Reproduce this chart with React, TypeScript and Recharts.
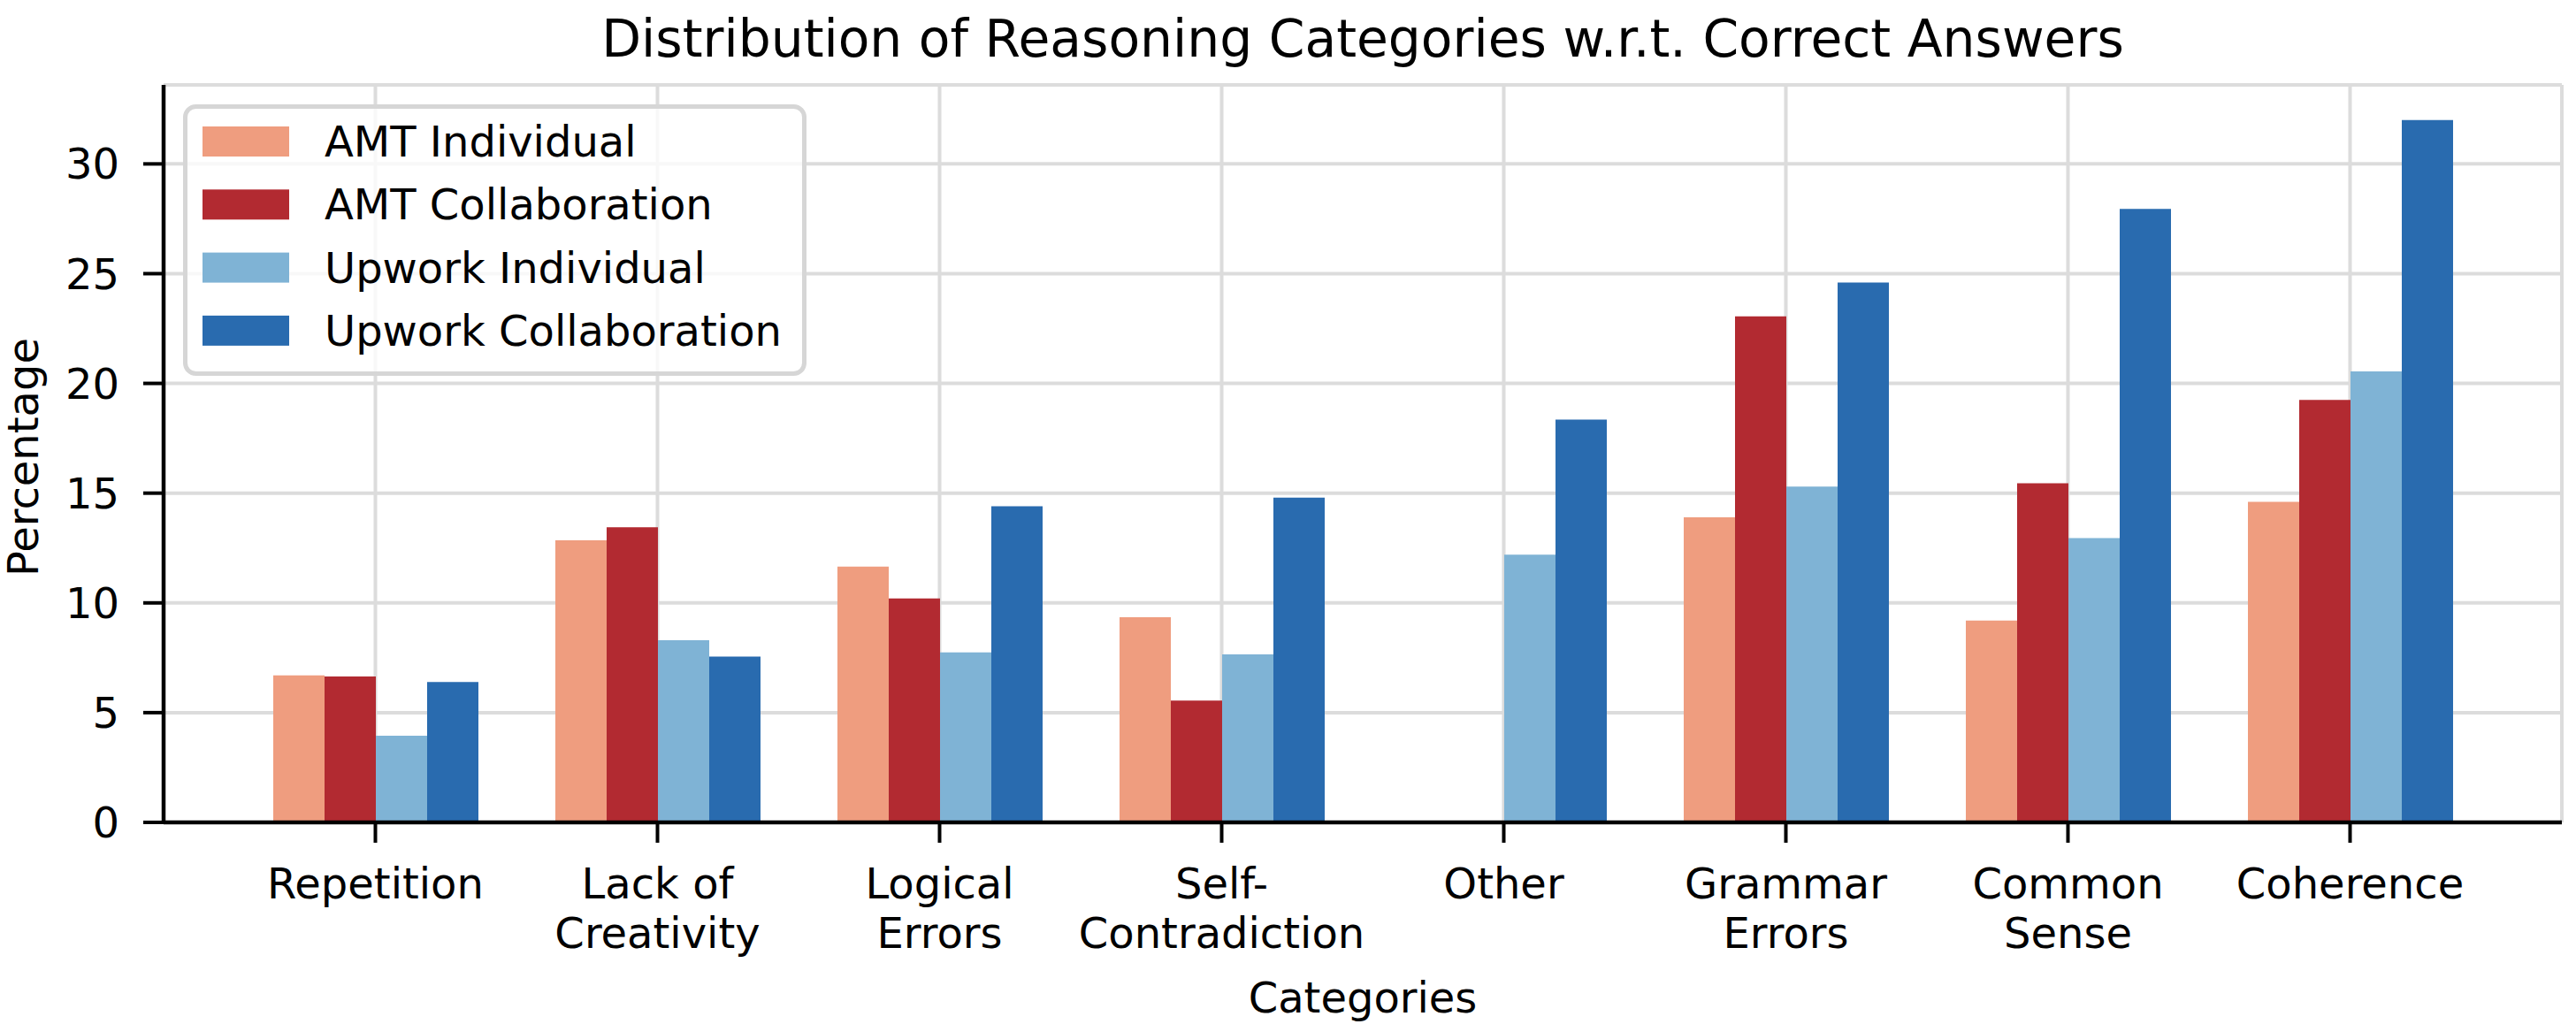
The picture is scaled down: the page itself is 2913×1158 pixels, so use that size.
import React from "react";
import {BarChart, Bar, XAxis, YAxis, CartesianGrid, Legend} from "recharts";

const FONT = "DejaVu Sans";

const categories = [
    "Repetition",
    "Lack of\nCreativity",
    "Logical\nErrors",
    "Self-\nContradiction",
    "Other",
    "Grammar\nErrors",
    "Common\nSense",
    "Coherence",
];

const amtIndividual = [6.7, 12.85, 11.65, 9.35, 0, 13.9, 9.2, 14.6];
const amtCollaboration = [6.65, 13.45, 10.2, 5.55, 0, 23.05, 15.45, 19.25];
const upworkIndividual = [3.95, 8.3, 7.75, 7.65, 12.2, 15.3, 12.95, 20.55];
const upworkCollaboration = [6.4, 7.55, 14.4, 14.8, 18.35, 24.6, 27.95, 32.0];

const yTicks = [0, 5, 10, 15, 20, 25, 30];

const series = [
    {key: "amtInd", name: "AMT Individual", color: "#EF9D7F", values: amtIndividual},
    {key: "amtCol", name: "AMT Collaboration", color: "#B22A31", values: amtCollaboration},
    {key: "upInd", name: "Upwork Individual", color: "#7FB3D5", values: upworkIndividual},
    {key: "upCol", name: "Upwork Collaboration", color: "#296BAF", values: upworkCollaboration},
];

const data = categories.map((category, i) => {
    const row: {[key: string]: any} = {category};
    series.forEach(s => { row[s.key] = s.values[i]; });
    return row;
});

// multi-line category labels, like matplotlib's "\n" tick labels
const CategoryTick = (props: any) => {
    const {x, y, payload} = props;
    const lines = String(payload.value).split("\n");
    return (
        <text x={x} y={y} textAnchor="middle" fill="#000" fontSize={48} fontFamily={FONT}>
            {lines.map((line, i) => (
                <tspan key={i} x={x} dy={i === 0 ? 61 : 56}>{line}</tspan>
            ))}
        </text>
    );
};

// legend keeps the series order (recharts sorts the payload by name)
const LegendBox = () => (
    <svg width={705} height={307} style={{display: "block"}}>
        <rect x={2.5} y={2.5} width={700} height={302} rx={12} ry={12}
              fill="#fff" fillOpacity={0.8} stroke="#d6d6d6" strokeWidth={5}/>
        {series.map((s, i) => {
            const cy = 42 + i * 71.3;
            return (
                <g key={s.key}>
                    <rect x={22} y={cy - 17} width={98} height={34} fill={s.color}/>
                    <text x={160} y={cy + 17} fontSize={48} fontFamily={FONT} fill="#000">{s.name}</text>
                </g>
            );
        })}
    </svg>
);

export default function App() {
    return (
        <div style={{width: 2913, height: 1158, background: "#fff", fontFamily: FONT}}>
            <style>{"body{margin:0}"}</style>
            <BarChart
                width={2913}
                height={1158}
                data={data}
                margin={{top: 96, right: 16, bottom: 0, left: 0}}
                barCategoryGap={44}
                barGap={0}
            >
                <CartesianGrid stroke="#dcdcdc" strokeWidth={4}/>
                <XAxis
                    dataKey="category"
                    interval={0}
                    height={228}
                    padding={{left: 80, right: 80}}
                    tick={<CategoryTick/>}
                    tickSize={23}
                    tickMargin={2}
                    tickLine={{stroke: "#000", strokeWidth: 4}}
                    axisLine={{stroke: "#000", strokeWidth: 4.5}}
                />
                <YAxis
                    type="number"
                    domain={[0, 33.6]}
                    ticks={yTicks}
                    width={185}
                    tickSize={23}
                    tickMargin={27}
                    tick={{fontSize: 48, fill: "#000", fontFamily: FONT}}
                    tickLine={{stroke: "#000", strokeWidth: 4}}
                    axisLine={{stroke: "#000", strokeWidth: 4.5}}
                />
                <Legend
                    layout="horizontal"
                    verticalAlign="middle"
                    align="center"
                    content={<LegendBox/>}
                    wrapperStyle={{position: "absolute", left: 207, top: 118, width: 705, height: 307}}
                />
                {series.map(s => (
                    <Bar key={s.key} dataKey={s.key} name={s.name} fill={s.color} isAnimationActive={false}/>
                ))}
                <text x={1541} y={64} textAnchor="middle" fontSize={58.3} fontFamily={FONT} fill="#000">
                    Distribution of Reasoning Categories w.r.t. Correct Answers
                </text>
                <text x={1541} y={1145} textAnchor="middle" fontSize={48} fontFamily={FONT} fill="#000">
                    Categories
                </text>
                <text x={43} y={517} transform="rotate(-90, 43, 517)" textAnchor="middle" fontSize={48}
                      fontFamily={FONT} fill="#000">
                    Percentage
                </text>
            </BarChart>
        </div>
    );
}
